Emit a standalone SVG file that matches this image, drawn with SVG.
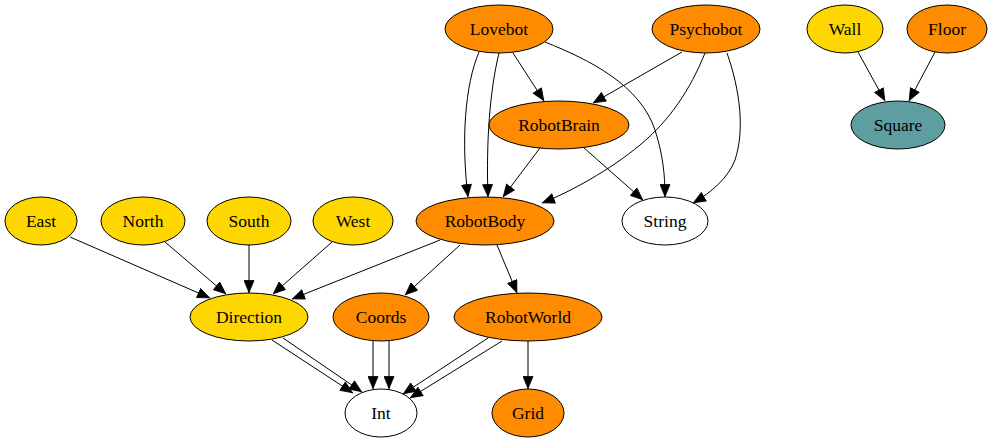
<svg xmlns="http://www.w3.org/2000/svg" width="992" height="443" viewBox="0 0 992 443">
<style>
.n ellipse{stroke:#000;stroke-width:1}
.o ellipse{fill:#ff8c00}
.y ellipse{fill:#ffd700}
.t ellipse{fill:#5f9ea0}
.w ellipse{fill:#fff}
text{font-family:"Liberation Serif","Times New Roman",serif;font-size:17.5px;text-anchor:middle;fill:#000}
#edges path{fill:none;stroke:#000;stroke-width:1;marker-end:url(#a)}
</style>
<defs>
<marker id="a" markerUnits="userSpaceOnUse" markerWidth="13" markerHeight="11" viewBox="0 0 13 11" refX="13" refY="5.5" orient="auto">
<path d="M0.5,0.5 L12.5,5.5 L0.5,10.5 z" fill="#000" stroke="#000" stroke-width="0.8"/>
</marker>
</defs>
<rect width="992" height="443" fill="#fff"/>
<g id="edges">
<path d="M479,52 C465,85 461,140 468,197"/>
<path d="M499,53 C490,90 486,140 488,197"/>
<path d="M513,53 L544,101"/>
<path d="M545,42 C590,60 640,85 655,130 C663,155 665,175 665,197"/>
<path d="M682,52 L593,103"/>
<path d="M705,53 C690,90 670,120 640,145 C610,170 570,192 542,203"/>
<path d="M727,53 C740,90 745,130 735,160 C728,178 712,192 693,203"/>
<path d="M540,148 L503,197"/>
<path d="M583,147 L643,200"/>
<path d="M70,237 L210,298"/>
<path d="M165,242 L226,294"/>
<path d="M249,245 L249,293"/>
<path d="M332,242 L273,294"/>
<path d="M440,240 L292,299"/>
<path d="M460,245 L405,295"/>
<path d="M497,245 L517,293"/>
<path d="M272,340 L353,393"/>
<path d="M283,338 L362,392"/>
<path d="M373,341 L373,389"/>
<path d="M389,341 L389,389"/>
<path d="M488,338 L403,394"/>
<path d="M502,341 L410,398"/>
<path d="M528,341 L528,389"/>
<path d="M858,52 L885,101"/>
<path d="M935,52 L909,101"/>
</g>
<g id="Lovebot" class="n o"><ellipse cx="499" cy="29" rx="54" ry="24"/><text x="499" y="35">Lovebot</text></g>
<g id="Psychobot" class="n o"><ellipse cx="706" cy="29" rx="54" ry="24"/><text x="706" y="35">Psychobot</text></g>
<g id="Wall" class="n y"><ellipse cx="845" cy="29" rx="38" ry="24"/><text x="845" y="35">Wall</text></g>
<g id="Floor" class="n o"><ellipse cx="947" cy="29" rx="40" ry="24"/><text x="947" y="35">Floor</text></g>
<g id="RobotBrain" class="n o"><ellipse cx="559" cy="125" rx="70" ry="24"/><text x="559" y="131">RobotBrain</text></g>
<g id="Square" class="n t"><ellipse cx="898" cy="125" rx="47" ry="24"/><text x="898" y="131">Square</text></g>
<g id="East" class="n y"><ellipse cx="41" cy="221" rx="36" ry="24"/><text x="41" y="227">East</text></g>
<g id="North" class="n y"><ellipse cx="143" cy="221" rx="42" ry="24"/><text x="143" y="227">North</text></g>
<g id="South" class="n y"><ellipse cx="249" cy="221" rx="42" ry="24"/><text x="249" y="227">South</text></g>
<g id="West" class="n y"><ellipse cx="353" cy="221" rx="40" ry="24"/><text x="353" y="227">West</text></g>
<g id="RobotBody" class="n o"><ellipse cx="485" cy="221" rx="69" ry="24"/><text x="485" y="227">RobotBody</text></g>
<g id="String" class="n w"><ellipse cx="665" cy="221" rx="43" ry="24"/><text x="665" y="227">String</text></g>
<g id="Direction" class="n y"><ellipse cx="249" cy="317" rx="59" ry="24"/><text x="249" y="323">Direction</text></g>
<g id="Coords" class="n o"><ellipse cx="381" cy="317" rx="48" ry="24"/><text x="381" y="323">Coords</text></g>
<g id="RobotWorld" class="n o"><ellipse cx="528" cy="317" rx="74" ry="24"/><text x="528" y="323">RobotWorld</text></g>
<g id="Int" class="n w"><ellipse cx="381" cy="413" rx="36" ry="24"/><text x="381" y="419">Int</text></g>
<g id="Grid" class="n o"><ellipse cx="528" cy="413" rx="36" ry="24"/><text x="528" y="419">Grid</text></g>
</svg>
